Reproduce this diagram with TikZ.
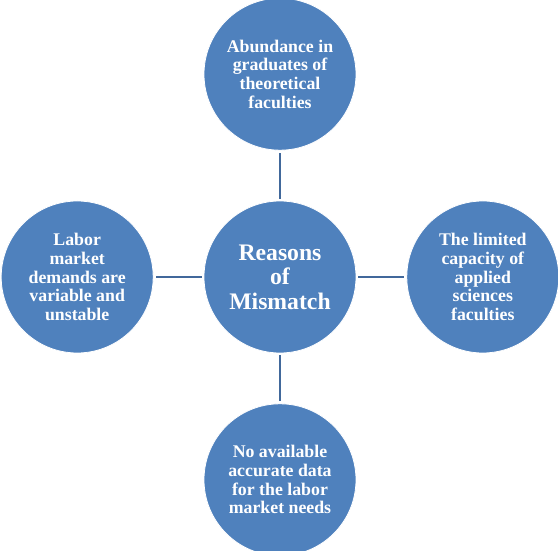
\documentclass[tikz,border=0pt]{standalone}
\usepackage{fontspec}
\setmainfont{Liberation Serif}
\usepackage{tikz}
\usetikzlibrary{positioning}
\definecolor{reasonblue}{RGB}{79,129,189}
\definecolor{linkblue}{RGB}{65,104,155}

\begin{document}
\begin{tikzpicture}[node distance=50pt,
    every node/.style={font=\bfseries\fontsize{17.8}{18.6}\selectfont, text=white},
    reason/.style={circle, fill=reasonblue, draw=white, line width=0.8pt, minimum size=152pt, inner sep=0pt, align=center},
    link/.style={draw=linkblue, line width=2.8pt, shorten <=2pt, shorten >=2pt}]
        \useasboundingbox (-280pt,-274pt) rectangle (278pt,277pt);
        \node[reason, font=\bfseries\fontsize{23.7}{24.6}\selectfont] (mismatch) at (0,0) {Reasons\\of\\Mismatch};
        \node[reason, above=of mismatch] (graduates) {Abundance in\\graduates of\\theoretical\\faculties};
        \node[reason, right=of mismatch] (capacity) {The limited\\capacity of\\applied\\sciences\\faculties};
        \node[reason, below=of mismatch] (data) {No available\\accurate data\\for the labor\\market needs};
        \node[reason, left=of mismatch] (demands) {Labor\\market\\demands are\\variable and\\unstable};
        \draw[link] (mismatch) -- (graduates);
        \draw[link] (mismatch) -- (capacity);
        \draw[link] (mismatch) -- (data);
        \draw[link] (mismatch) -- (demands);
      \end{tikzpicture}
\end{document}
